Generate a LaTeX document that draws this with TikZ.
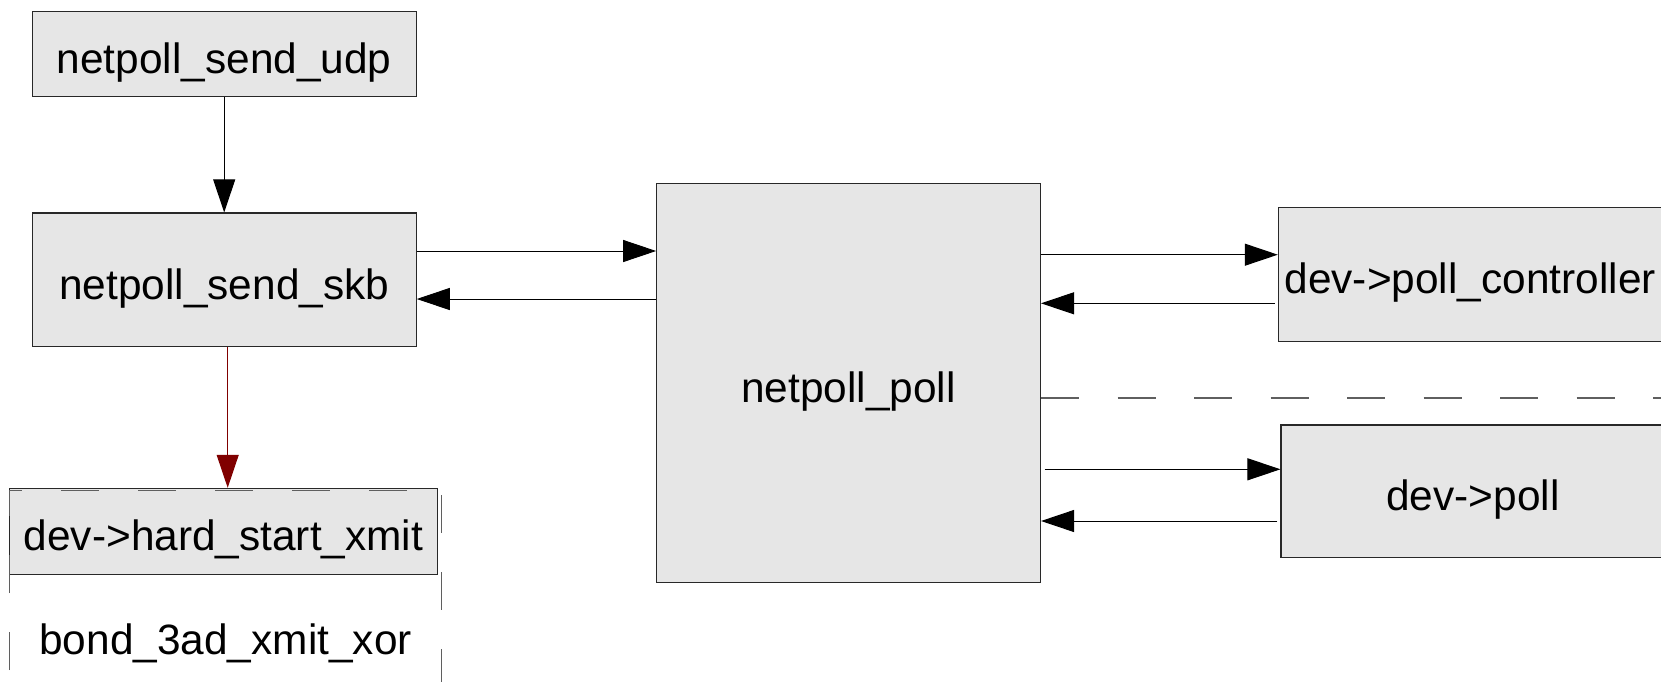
\documentclass[tikz,border=0pt]{standalone}
\usepackage{fontspec}
\setmainfont{Liberation Sans}
\usetikzlibrary{arrows.meta}

\definecolor{boxfill}{RGB}{230,230,230}
\definecolor{boxline}{RGB}{40,40,40}
\definecolor{dashline}{RGB}{95,95,95}
\definecolor{darkred}{RGB}{128,0,0}

\tikzset{
  fnbox/.style={draw=boxline, fill=boxfill, line width=0.55pt,
    inner sep=0pt, text height=19.3pt, text depth=0pt,
    font=\fontsize{21.2pt}{25pt}\selectfont},
  flow/.style={draw=black, line width=0.5pt,
    -{Triangle[length=16.5pt, width=11pt]}},
  redflow/.style={flow, draw=darkred, fill=darkred,
    -{Triangle[length=16.5pt, width=11pt, fill=darkred]}},
  grpline/.style={draw=dashline, line width=0.65pt,
    dash pattern=on 19pt off 19.5pt},
  plainlabel/.style={inner sep=0pt, anchor=base,
    font=\fontsize{21.2pt}{25pt}\selectfont}
}

\begin{document}
\begin{tikzpicture}[x=0.5pt, y=-0.5pt]
  \useasboundingbox (0,0) rectangle (1661,681);

  % function boxes
  \node[fnbox, minimum width=192pt, minimum height=42.65pt]
    (udp) at (224.2,53.7) {netpoll\_send\_udp};
  \node[fnbox, minimum width=192pt, minimum height=66.85pt]
    (skb) at (224.2,279.8) {netpoll\_send\_skb};
  \node[fnbox, minimum width=214.2pt, minimum height=42.85pt]
    (hard) at (223.5,531.2) {dev->hard\_start\_xmit};
  \node[fnbox, minimum width=191.9pt, minimum height=199.65pt]
    (poll) at (848.6,383) {netpoll\_poll};
  \node[fnbox, minimum width=191.85pt, minimum height=66.85pt]
    (pc) at (1470.2,274.2) {dev->poll\_controller};
  \node[fnbox, minimum width=192pt, minimum height=66.35pt]
    (dp) at (1473,491.3) {dev->poll};

  % bonding group outline
  \coordinate (grpbl) at (9.3,747);
  \coordinate (grptl) at (9.3,490.7);
  \coordinate (grptr) at (441.7,490.7);
  \coordinate (grpbr) at (441.7,760);
  \draw[grpline] (grpbl) -- (grptl) -- (grptr) -- (grpbr);
  \node[plainlabel] (bond) at (225.6,654) {bond\_3ad\_xmit\_xor};

  % device group separator
  \coordinate (sepend) at (1700,398);
  \draw[grpline, dash pattern=on 19pt off 19.25pt]
    (poll.east |- 0,398) -- (sepend);

  % call flow
  \draw[flow] (udp.south) -- (skb.north);
  \draw[redflow] (skb.south -| 227.7,0) -- (hard.north -| 227.7,0);

  \draw[flow] (skb.east |- 0,251) -- (poll.west |- 0,251);
  \draw[flow] (poll.west |- 0,299) -- (skb.east |- 0,299);

  \draw[flow] (poll.east |- 0,254.7) -- (pc.west |- 0,254.7);
  \draw[flow, shorten <=1.5pt] (pc.west |- 0,303.3) -- (poll.east |- 0,303.3);

  \draw[flow, shorten <=1.75pt] (poll.east |- 0,469.3) -- (dp.west |- 0,469.3);
  \draw[flow, shorten <=1.6pt] (dp.west |- 0,521) -- (poll.east |- 0,521);
\end{tikzpicture}
\end{document}
